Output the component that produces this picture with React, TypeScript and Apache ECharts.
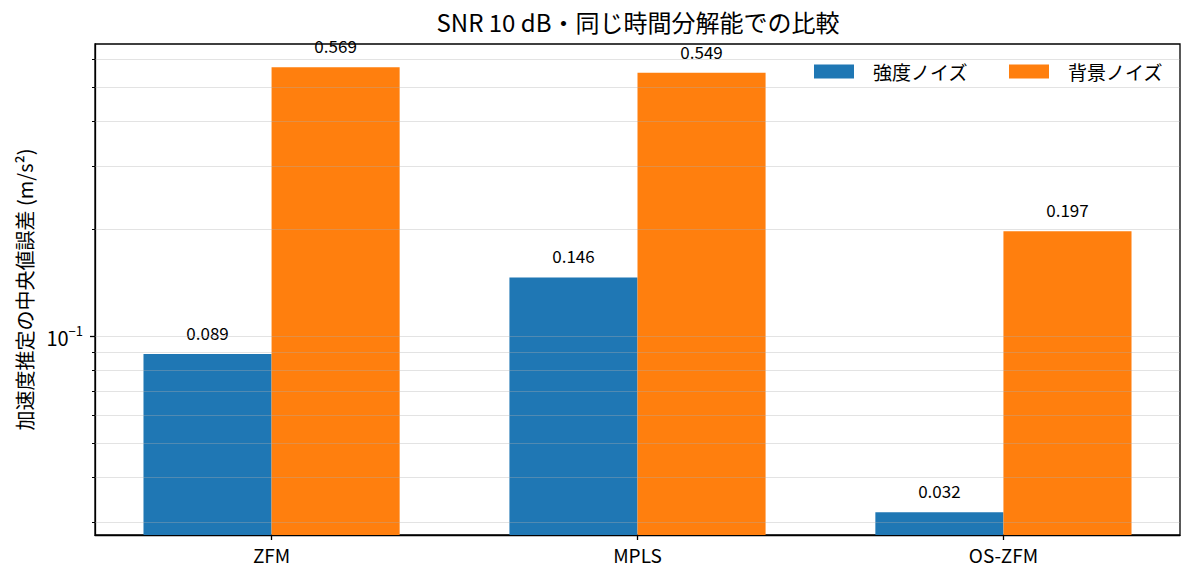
import React, { useEffect, useRef } from 'react';
import * as echarts from 'echarts';

const FONT = '"Noto Sans CJK JP", "Noto Sans", sans-serif';

const titleText = 'SNR 10 dB・同じ時間分解能での比較';
const yAxisName = '加速度推定の中央値誤差 (m/s²)';
const categories = ['ZFM', 'MPLS', 'OS-ZFM'];
const seriesNames = ['強度ノイズ', '背景ノイズ'];
const intensityNoise = [0.089, 0.146, 0.032];
const backgroundNoise = [0.569, 0.549, 0.197];
const seriesColors = ['#1f77b4', '#ff7f0e'];

const xMin = -0.4825;
const xMax = 2.4825;
const yMin = 0.0276;
const yMax = 0.661;
const majorTicks = [0.1];
const minorTicks = [0.03, 0.04, 0.05, 0.06, 0.07, 0.08, 0.09, 0.2, 0.3, 0.4, 0.5, 0.6];
const gridValues = [...minorTicks, ...majorTicks];

export default function App() {
  const ref = useRef<HTMLDivElement>(null);

  useEffect(() => {
    if (!ref.current) return;
    const chart = echarts.init(ref.current, undefined, { renderer: 'svg' });

    const categoryIndex = categories.map((_, i) => i);

    const barLabel = {
      show: true,
      position: 'top',
      distance: 13,
      fontSize: 17,
      color: '#000',
      fontFamily: FONT,
      formatter: (p: any) => Number(p.value[1]).toFixed(3),
    };

    const option: any = {
      animation: false,
      backgroundColor: '#ffffff',
      textStyle: { fontFamily: FONT },
      title: {
        text: titleText,
        left: 638,
        top: 9,
        textAlign: 'center',
        padding: 0,
        textStyle: { fontSize: 24, fontWeight: 'normal', color: '#000', fontFamily: FONT },
      },
      legend: {
        data: seriesNames,
        right: 32,
        top: 62,
        padding: 0,
        itemWidth: 40,
        itemHeight: 14,
        itemGap: 41,
        icon: 'rect',
        textStyle: { fontSize: 19, color: '#000', fontFamily: FONT, padding: [0, 0, 0, 14] },
      },
      grid: {
        left: 95,
        right: 15,
        top: 44,
        bottom: 48,
        show: true,
        borderColor: '#000',
        borderWidth: 1.3,
        containLabel: false,
      },
      xAxis: {
        type: 'value',
        min: xMin,
        max: xMax,
        axisLine: { show: true, onZero: false, lineStyle: { color: '#000', width: 1.3 } },
        axisTick: { show: true, length: 5, customValues: categoryIndex, lineStyle: { color: '#000', width: 1.3 } },
        axisLabel: {
          customValues: categoryIndex,
          fontSize: 19,
          color: '#000',
          margin: 10,
          fontFamily: FONT,
          formatter: (v: number) => categories[Math.round(v)] ?? '',
        },
        splitLine: { show: false },
      },
      yAxis: [
        {
          type: 'log',
          logBase: 10,
          min: yMin,
          max: yMax,
          startValue: yMin,
          name: yAxisName,
          nameLocation: 'middle',
          nameGap: 61,
          nameTextStyle: { fontSize: 20, color: '#000', fontFamily: FONT },
          axisLine: { show: true, onZero: false, lineStyle: { color: '#000', width: 1.3 } },
          axisTick: { show: true, length: 5, customValues: majorTicks, lineStyle: { color: '#000', width: 1.3 } },
          axisLabel: {
            customValues: majorTicks,
            margin: 12,
            color: '#000',
            fontSize: 19,
            fontFamily: FONT,
            formatter: (v: number) => {
              const e = Math.round(Math.log10(v));
              if (Math.abs(Math.pow(10, e) - v) > 1e-9) return '';
              return '{b|10}{s|' + (e < 0 ? '−' : '') + Math.abs(e) + '}';
            },
            rich: {
              b: { fontSize: 20, color: '#000', fontFamily: FONT, lineHeight: 24, verticalAlign: 'bottom' },
              s: { fontSize: 13, color: '#000', fontFamily: FONT, lineHeight: 13, verticalAlign: 'top' },
            },
          },
          splitLine: { show: false },
        },
        {
          type: 'log',
          logBase: 10,
          min: yMin,
          max: yMax,
          position: 'left',
          axisLine: { show: false, onZero: false },
          axisTick: { show: true, length: 3, customValues: minorTicks, lineStyle: { color: '#000', width: 1 } },
          axisLabel: { show: false },
          splitLine: { show: false },
        },
      ],
      series: [
        {
          name: seriesNames[0],
          type: 'bar',
          data: categoryIndex.map((i) => [i, intensityNoise[i]]),
          barWidth: '35%',
          barGap: '0%',
          itemStyle: { color: seriesColors[0] },
          label: barLabel,
          markLine: {
            silent: true,
            symbol: ['none', 'none'],
            label: { show: false },
            emphasis: { disabled: true },
            lineStyle: { color: 'rgba(176,176,176,0.35)', type: 'solid', width: 1 },
            data: gridValues.map((v) => ({ yAxis: v })),
          },
        },
        {
          name: seriesNames[1],
          type: 'bar',
          data: categoryIndex.map((i) => [i, backgroundNoise[i]]),
          barWidth: '35%',
          barGap: '0%',
          itemStyle: { color: seriesColors[1] },
          label: barLabel,
        },
      ],
    };

    chart.setOption(option);
    return () => chart.dispose();
  }, []);

  return (
    <div
      ref={ref}
      style={{ position: 'fixed', left: 0, top: 0, width: 1195, height: 583, background: '#fff' }}
    />
  );
}
